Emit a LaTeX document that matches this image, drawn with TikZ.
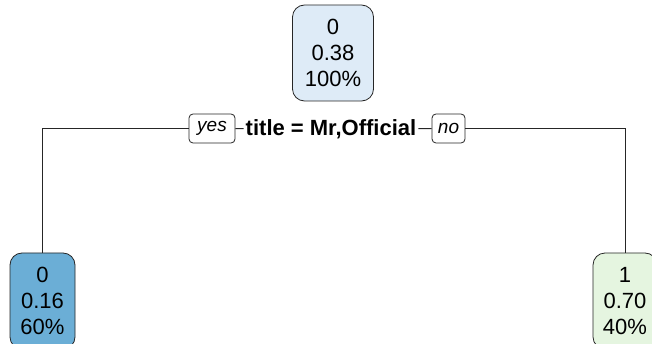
\documentclass[tikz,border=0pt]{standalone}
\usepackage{fontspec}
\setmainfont{Liberation Sans}
\definecolor{rootfill}{RGB}{222,235,247}
\definecolor{nofill}{RGB}{107,174,214}
\definecolor{yesfill}{RGB}{229,245,224}
\tikzset{
  leafbox/.style={draw=black!85, line width=.8pt, rounded corners=12pt, minimum width=#1, minimum height=96pt, inner sep=0pt, align=center, font=\fontsize{22}{26}\selectfont},
  answer/.style={draw=black!85, line width=.8pt, rounded corners=4pt, fill=white, minimum height=29pt, inner sep=0pt, font=\fontsize{19}{20}\selectfont\itshape},
  branch/.style={line width=1pt, black!85}
}
\begin{document}
\begin{tikzpicture}[x=1pt, y=-1pt]
        \useasboundingbox (0,0) rectangle (652,344);
        \clip (0,0) rectangle (652,344);

        \draw (333,53) node[leafbox=81pt, fill=rootfill] (root) {0\\0.38\\100\%};
        \draw (331,129) node[fill=white, inner sep=2pt, font=\fontsize{22}{24}\selectfont\bfseries] (split) {title = Mr,Official};
        \draw (212,128.5) node[answer, minimum width=46pt] (yes) {yes};
        \draw (448.5,128.5) node[answer, minimum width=33pt] (no) {no};
        \draw (42.5,301) node[leafbox=65pt, fill=nofill] (left) {0\\0.16\\60\%};
        \draw (625,301) node[leafbox=64pt, fill=yesfill] (right) {1\\0.70\\40\%};

        \draw[branch] (yes) -| (left);
        \draw[branch] (yes) -- (split);
        \draw[branch] (split) -- (no);
        \draw[branch] (no) -| (right);
    \end{tikzpicture}
\end{document}
